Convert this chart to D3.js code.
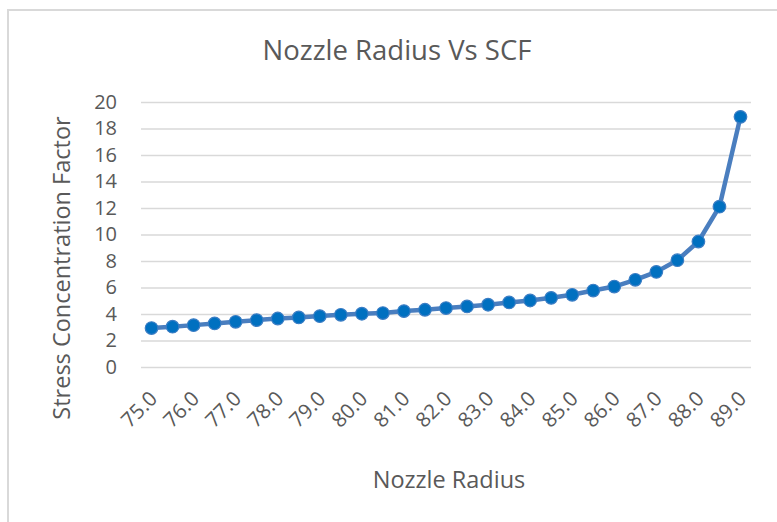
<!DOCTYPE html>
<html>
<head>
<meta charset="utf-8">
<script src="https://cdn.jsdelivr.net/npm/d3@7"></script>
<style>
  body { margin: 0; background: #fff; }
  svg text { font-family: "Open Sans", sans-serif; fill: #595959; }
</style>
</head>
<body>
<svg width="777" height="522"></svg>
<script>
var svg = d3.select("svg"),
    width = +svg.attr("width"),
    height = +svg.attr("height");

// nozzle radius categories (every 0.5)
var radii = ["75.0", "75.5", "76.0", "76.5", "77.0", "77.5", "78.0", "78.5", "79.0", "79.5",
             "80.0", "80.5", "81.0", "81.5", "82.0", "82.5", "83.0", "83.5", "84.0", "84.5",
             "85.0", "85.5", "86.0", "86.5", "87.0", "87.5", "88.0", "88.5", "89.0"];
// stress concentration factor
var scf = [2.94, 3.04, 3.16, 3.29, 3.41, 3.54, 3.66, 3.74, 3.84, 3.94,
           4.02, 4.07, 4.22, 4.32, 4.45, 4.57, 4.70, 4.87, 5.02, 5.22,
           5.45, 5.77, 6.07, 6.58, 7.18, 8.06, 9.47, 12.1, 18.88];
var yTicks = [0, 2, 4, 6, 8, 10, 12, 14, 16, 18, 20];
// only whole radii get a label
var xLabels = ["75.0", "76.0", "77.0", "78.0", "79.0", "80.0", "81.0", "82.0",
               "83.0", "84.0", "85.0", "86.0", "87.0", "88.0", "89.0"];

var plot = {left: 141, right: 751, top: 102, bottom: 367};

var data = radii.map(function(r, i) { return {r: r, v: scf[i]}; });

var x = d3.scaleBand().domain(radii).range([plot.left, plot.right]).padding(0);
var y = d3.scaleLinear().domain([0, 20]).range([plot.bottom, plot.top]);
var cx = function(d) { return x(d.r) + x.bandwidth() / 2; };

// chart frame
svg.append("rect")
  .attr("x", 8).attr("y", 10)
  .attr("width", 790).attr("height", 530)
  .attr("fill", "none")
  .attr("stroke", "#d9d9d9")
  .attr("stroke-width", 2);

// title
svg.append("text")
  .attr("x", 397).attr("y", 60)
  .attr("text-anchor", "middle")
  .style("font-size", "27.5px")
  .text("Nozzle Radius Vs SCF");

// gridlines
var yAxis = svg.append("g")
  .attr("transform", "translate(" + plot.left + ",0)")
  .call(d3.axisLeft(y).tickValues(yTicks).tickSize(-(plot.right - plot.left)).tickPadding(24));
yAxis.select(".domain").remove();
yAxis.selectAll("line").attr("stroke", "#d9d9d9").attr("stroke-width", 1.3);
yAxis.selectAll("text").style("font-size", "20px").attr("fill", "#595959");

// x axis labels
var xAxis = svg.append("g")
  .attr("transform", "translate(0," + plot.bottom + ")")
  .call(d3.axisBottom(x).tickSize(0).tickFormat(function(d) { return xLabels.indexOf(d) >= 0 ? d : ""; }));
xAxis.select(".domain").remove();
xAxis.selectAll("text")
  .style("font-size", "20.5px")
  .attr("fill", "#595959")
  .attr("text-anchor", "end")
  .attr("dy", null)
  .attr("y", 0)
  .attr("transform", "translate(7,33) rotate(-45)");

// axis titles
svg.append("text")
  .attr("transform", "translate(70,268) rotate(-90)")
  .attr("text-anchor", "middle")
  .style("font-size", "23.5px")
  .text("Stress Concentration Factor");

svg.append("text")
  .attr("x", 449).attr("y", 488)
  .attr("text-anchor", "middle")
  .style("font-size", "23.5px")
  .text("Nozzle Radius");

// line + markers
var line = d3.line().x(cx).y(function(d) { return y(d.v); });

svg.append("path")
  .datum(data)
  .attr("d", line)
  .attr("fill", "none")
  .attr("stroke", "#4a7ebf")
  .attr("stroke-width", 4.5)
  .attr("stroke-linejoin", "round");

svg.append("g")
  .selectAll("circle")
  .data(data)
  .enter().append("circle")
  .attr("cx", cx)
  .attr("cy", function(d) { return y(d.v); })
  .attr("r", 6.3)
  .attr("fill", "#0070c0")
  .attr("stroke", "#3b7dc4")
  .attr("stroke-width", 1.2);
</script>
</body>
</html>
